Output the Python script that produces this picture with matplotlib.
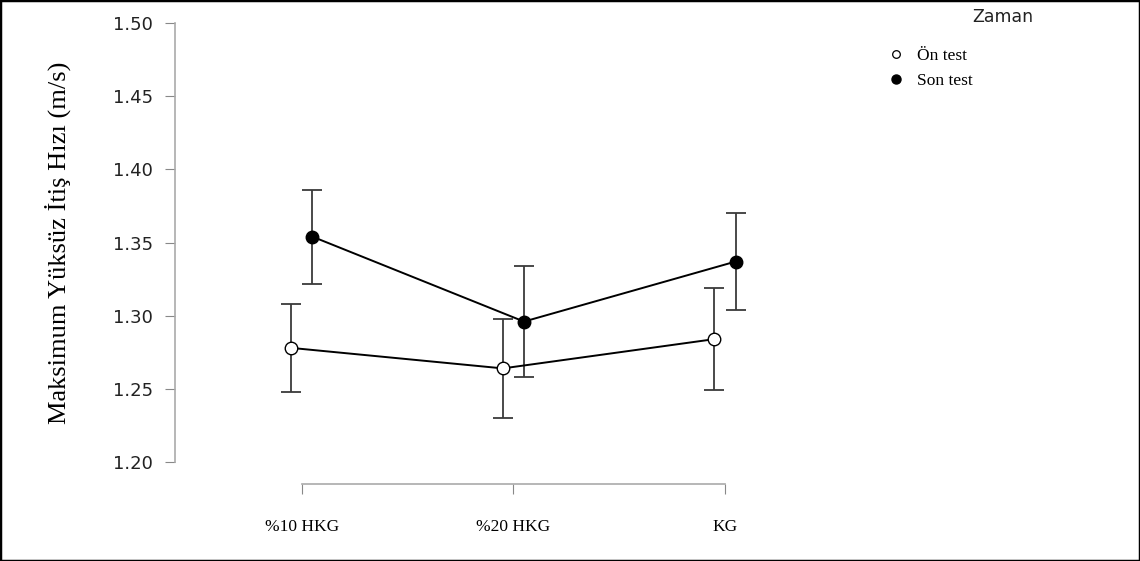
import matplotlib.pyplot as plt
import numpy as np
from matplotlib.lines import Line2D
from matplotlib.patches import Rectangle

groups = ["%10 HKG", "%20 HKG", "KG"]
series = ["Ön test", "Son test"]

on_mean = [1.278, 1.264, 1.284]
on_low = [1.248, 1.230, 1.249]
on_high = [1.308, 1.298, 1.319]

son_mean = [1.354, 1.296, 1.337]
son_low = [1.322, 1.258, 1.304]
son_high = [1.386, 1.334, 1.370]

yticks = [1.20, 1.25, 1.30, 1.35, 1.40, 1.45, 1.50]

serif = ["Liberation Serif", "DejaVu Serif"]

fig = plt.figure(figsize=(11.4, 5.61), dpi=100)
ax = fig.add_axes([175 / 1140, 77 / 561, 624 / 1140, 469 / 561])

x = np.arange(len(groups))
dodge = 0.05

for means, lows, highs, xs, face in [
    (on_mean, on_low, on_high, x - dodge, "white"),
    (son_mean, son_low, son_high, x + dodge, "black"),
]:
    m = np.array(means)
    err = [m - np.array(lows), np.array(highs) - m]
    ax.errorbar(xs, m, yerr=err, fmt="none", ecolor="#3a3a3a",
                elinewidth=1.3, capsize=7.5, capthick=1.3, zorder=2)
    ax.plot(xs, m, color="black", lw=1.4, zorder=3)
    ax.plot(xs, m, ls="none", marker="o", ms=9, mfc=face, mec="black",
            mew=1.0, zorder=4)

ax.set_xlim(-0.6, 2.35)
ax.set_ylim(1.185, 1.5055)

for s in ["top", "right"]:
    ax.spines[s].set_visible(False)
ax.spines["left"].set_bounds(1.20, 1.50)
ax.spines["bottom"].set_bounds(0, 2)
for s in ["left", "bottom"]:
    ax.spines[s].set_color("#aaaaaa")
    ax.spines[s].set_linewidth(1.2)

ax.set_yticks(yticks)
ax.set_yticklabels(["%.2f" % v for v in yticks])
ax.set_xticks(x)
ax.set_xticklabels(groups, family=serif, fontsize=12.5)
ax.tick_params(axis="y", length=7, color="#888888", labelsize=13, pad=9,
               labelcolor="#222222")
ax.tick_params(axis="x", length=7, color="#888888", pad=18)

fig.text(58 / 1140, 1 - 243 / 561, "Maksimum Yüksüz İtiş Hızı (m/s)",
         rotation=90, ha="center", va="center", family=serif, fontsize=19)

handles = [
    Line2D([], [], marker="o", ls="none", ms=5.5, mfc="white", mec="black", mew=0.9),
    Line2D([], [], marker="o", ls="none", ms=6.5, mfc="black", mec="black"),
]
fig.legend(handles, series, loc="upper left",
           bbox_to_anchor=(891 / 1140, 1 - 48 / 561), frameon=False,
           prop={"family": serif, "size": 12.5}, handlelength=0.6,
           handletextpad=0.9, labelspacing=0.5, borderpad=0, borderaxespad=0)
fig.text(1003 / 1140, 1 - 17 / 561, "Zaman", ha="center", va="center",
         fontsize=12.5, color="#222222")

fig.add_artist(Rectangle((0, 0), 1, 1, transform=fig.transFigure,
                         fill=False, ec="black", lw=2.5))

fig.savefig("out.png", dpi=100)
